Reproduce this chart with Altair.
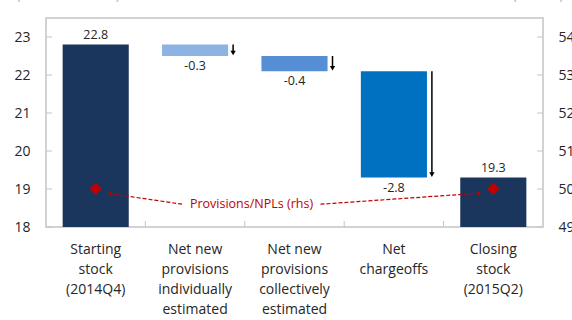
import altair as alt
import pandas as pd

# Waterfall of the stock of provisions (billions of dollars, lhs) and
# provisions-to-NPLs ratio (percent, rhs)
categories = [
    "Starting|stock|(2014Q4)",
    "Net new|provisions|individually|estimated",
    "Net new|provisions|collectively|estimated",
    "Net|chargeoffs",
    "Closing|stock|(2015Q2)",
]
starting_stock = 22.8
changes = [-0.3, -0.4, -2.8]
closing_stock = 19.3
ratio_points = [50.0, 50.0]          # provisions/NPLs at start and close
ratio_label = "Provisions/NPLs (rhs)"
ratio_label_level = 49.6
bar_colors = ["#1b365d", "#8db3e2", "#558ed5", "#0070c0", "#1b365d"]
left_ticks = [18, 19, 20, 21, 22, 23]
right_ticks = [49, 50, 51, 52, 53, 54]
left_domain = [18, 23.5]
right_domain = [49, 54.5]

W, H = 497, 209
FONT = "Open Sans"
TXT = "#262626"
GRID = "#c4c4c4"
RED = "#c00000"

# build waterfall rows
rows = [dict(cat=categories[0], lo=left_domain[0], hi=starting_stock,
             val=starting_stock, kind="total")]
running = starting_stock
for c, d in zip(categories[1:4], changes):
    rows.append(dict(cat=c, lo=running + d, hi=running, val=d, kind="change"))
    running += d
rows.append(dict(cat=categories[4], lo=left_domain[0], hi=closing_stock,
                 val=closing_stock, kind="total"))
wf = pd.DataFrame(rows)
wf["color"] = bar_colors
wf["text"] = wf["val"].map(lambda v: f"{v:.1f}")

xscale = alt.Scale(domain=categories, paddingInner=0, paddingOuter=0)
x_axis = alt.Axis(
    labelExpr="split(datum.label, '|')", labelAngle=0, labelFontSize=14,
    labelLineHeight=20, labelPadding=15, labelColor=TXT, labelFont=FONT,
    ticks=False, domain=False, grid=False, title=None,
)
yl_axis = alt.Axis(
    values=left_ticks, labelFontSize=14, labelPadding=16, labelColor=TXT,
    labelFont=FONT, ticks=False, domain=False, grid=False, title=None)
yr_axis = alt.Axis(
    orient="right", values=right_ticks, labelFontSize=14, labelPadding=15,
    labelColor=TXT, labelFont=FONT, ticks=False, domain=False, grid=False,
    title=None)

yl = alt.Scale(domain=left_domain, nice=False, zero=False)
yr = alt.Scale(domain=right_domain, nice=False, zero=False)


def X(field="cat", **kw):
    return alt.X(f"{field}:N", sort=categories, scale=xscale, axis=x_axis, **kw)


def YL(field):
    return alt.Y(f"{field}:Q", scale=yl, axis=yl_axis)


def YR(field):
    return alt.Y(f"{field}:Q", scale=yr, axis=yr_axis)


base = alt.Chart(wf)

bars = base.mark_bar(width=alt.RelativeBandSize(0.665)).encode(
    x=X(), y=YL("hi"), y2="lo:Q",
    color=alt.Color("color:N", scale=None),
)

top_labels = base.transform_filter("datum.kind == 'total'").mark_text(
    baseline="bottom", dy=-3, fontSize=12.5, font=FONT, color=TXT
).encode(x=X(), y=YL("hi"), text="text:N")

low_labels = base.transform_filter("datum.kind == 'change'").mark_text(
    baseline="top", dy=4, fontSize=12.5, font=FONT, color=TXT
).encode(x=X(), y=YL("lo"), text="text:N")

changes_only = base.transform_filter("datum.kind == 'change'")
arrow_shaft = changes_only.mark_rule(
    xOffset=38, y2Offset=-4, color="black", strokeWidth=1.5
).encode(x=X(), y=YL("hi"), y2="lo:Q")
arrow_head = changes_only.mark_point(
    shape="triangle-down", filled=True, size=28, opacity=1,
    color="black", xOffset=38, yOffset=-3
).encode(x=X(), y=YL("lo"))

# tick marks drawn on the inner side of the frame
lt = pd.DataFrame({"v": left_ticks})
left_tick_marks = alt.Chart(lt).mark_rule(color=GRID, strokeWidth=1).encode(
    y=YL("v"), x=alt.value(0), x2=alt.value(6))
bt = pd.DataFrame({"cat": categories[1:]})
bottom_tick_marks = alt.Chart(bt).mark_rule(color=GRID, strokeWidth=1).encode(
    x=X(bandPosition=0), y=alt.value(H - 6), y2=alt.value(H))

# units above the axes
unit_left = alt.Chart(pd.DataFrame({"t": ["(Billions of dollars)"]})).mark_text(
    fontSize=12, font=FONT, color="#8eb4e3", baseline="alphabetic", align="center"
).encode(x=alt.value(22), y=alt.value(-18.5), text="t:N")
unit_right = alt.Chart(pd.DataFrame({"t": ["(Percent)"]})).mark_text(
    fontSize=12, font=FONT, color="#8eb4e3", baseline="alphabetic", align="center"
).encode(x=alt.value(492), y=alt.value(-18.5), text="t:N")

left_layer = alt.layer(bars, top_labels, low_labels, arrow_shaft, arrow_head,
                       left_tick_marks, bottom_tick_marks, unit_left, unit_right)

# right-hand scale: provisions/NPLs
rp = pd.DataFrame({"cat": [categories[0], categories[4]], "r": ratio_points})
diamonds = alt.Chart(rp).mark_point(
    shape="diamond", filled=True, size=150, color=RED, opacity=1
).encode(x=X(), y=YR("r"))

rt = pd.DataFrame({"v": right_ticks})
right_tick_marks = alt.Chart(rt).mark_rule(color=GRID, strokeWidth=1).encode(
    y=YR("v"), x=alt.value(W - 6), x2=alt.value(W))

lab = pd.DataFrame({"cat": [categories[2]], "r": [ratio_label_level], "t": [ratio_label]})
ratio_text = alt.Chart(lab).mark_text(
    fontSize=12.5, font=FONT, color=RED, xOffset=-43
).encode(x=X(), y=YR("r"), text="t:N")

seg_left = pd.DataFrame({"a": [categories[1]], "b": [categories[0]],
                         "ra": [ratio_label_level], "rb": [ratio_points[0] - 0.12]})
seg_right = pd.DataFrame({"a": [categories[2]], "b": [categories[4]],
                          "ra": [ratio_label_level], "rb": [ratio_points[1] - 0.11]})


def leader(df, off_a, off_b, angle, shape):
    line = alt.Chart(df).mark_rule(
        color=RED, strokeWidth=1.2, strokeDash=[4, 2],
        xOffset=off_a, x2Offset=off_b
    ).encode(x=X("a"), x2="b:N", y=YR("ra"), y2="rb:Q")
    head = alt.Chart(df).mark_point(
        shape=shape, filled=True, size=22, color=RED, opacity=1,
        xOffset=off_b, angle=angle
    ).encode(x=X("b"), y=YR("rb"))
    return line + head


right_layer = alt.layer(
    right_tick_marks,
    leader(seg_left, -13, 14, 9, "triangle-left"),
    leader(seg_right, 26, -14, 356, "triangle-right"),
    diamonds,
    ratio_text,
)

chart = alt.layer(left_layer, right_layer).resolve_scale(y="independent").properties(
    width=W, height=H,
    autosize=alt.AutoSizeParams(type="none"),
    padding={"left": 46, "top": 18, "right": 29, "bottom": 93},
    background="white",
).configure_view(stroke=GRID, strokeWidth=1.5)

chart.save("out.html", embed_options={"renderer": "svg", "actions": False})
